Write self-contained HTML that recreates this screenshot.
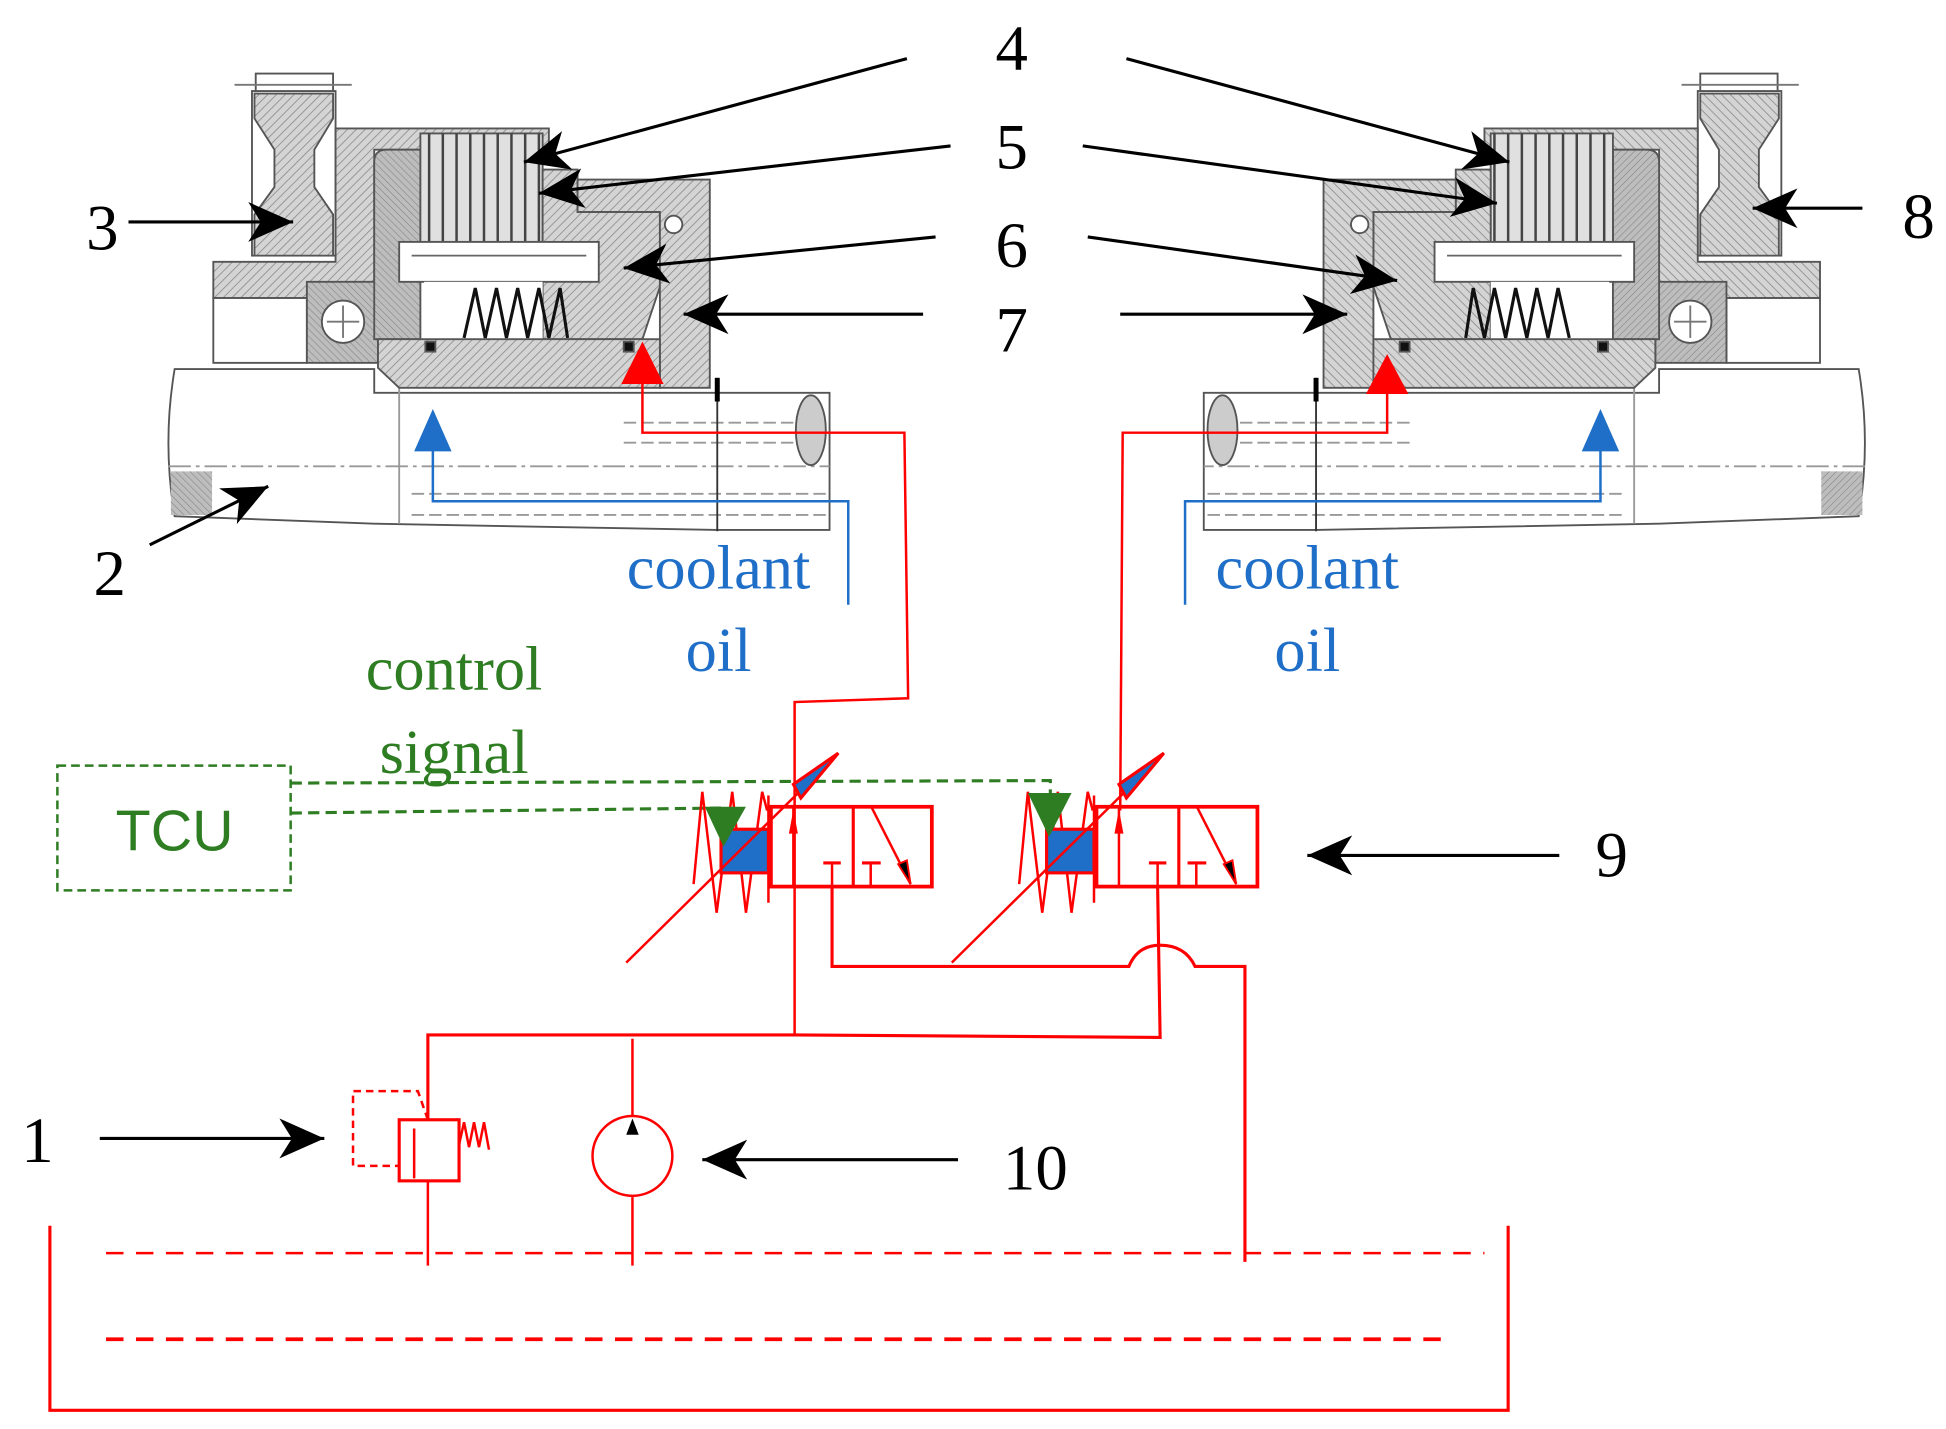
<!DOCTYPE html>
<html><head><meta charset="utf-8"><style>html,body{margin:0;padding:0;background:#fff}svg{display:block}</style></head>
<body>
<svg width="1946" height="1429" viewBox="0 0 1560 1146" preserveAspectRatio="none" xmlns="http://www.w3.org/2000/svg">
<defs>
<pattern id="h" width="5" height="5" patternUnits="userSpaceOnUse" patternTransform="rotate(45)">
<rect width="5" height="5" fill="#d4d4d4"/><line x1="0" y1="0" x2="0" y2="5" stroke="#8a8a8a" stroke-width="1.3"/></pattern>
<pattern id="h2" width="4" height="4" patternUnits="userSpaceOnUse" patternTransform="rotate(-45)">
<rect width="4" height="4" fill="#bdbdbd"/><line x1="0" y1="0" x2="0" y2="4" stroke="#888" stroke-width="1"/></pattern>
<marker id="ab" markerWidth="40" markerHeight="36" refX="36" refY="18" orient="auto" markerUnits="userSpaceOnUse">
<path d="M36,18 L0,2 L10,18 L0,34 Z" fill="#000"/></marker>
<g id="mech" stroke="#555" stroke-width="1.5">
 <path d="M140,296 L300,296 L300,315 L665,315 L665,425 L575,425 L300,420 L140,414 Q130,355 140,296 Z" fill="#fff"/>
 <path d="M137,378 L170,378 L170,413 L137,413 Z" fill="url(#h2)" stroke="none"/>
 <line x1="135" y1="374" x2="665" y2="374" stroke="#999" stroke-dasharray="18,4,3,4"/>
 <line x1="500" y1="339" x2="660" y2="339" stroke="#999" stroke-dasharray="10,4"/>
 <line x1="500" y1="355" x2="660" y2="355" stroke="#999" stroke-dasharray="10,4"/>
 <line x1="330" y1="396" x2="665" y2="396" stroke="#999" stroke-dasharray="10,4"/>
 <line x1="330" y1="413" x2="665" y2="413" stroke="#999" stroke-dasharray="10,4"/>
 <ellipse cx="650" cy="345" rx="12" ry="28" fill="#ccc"/>
 <line x1="575" y1="303" x2="575" y2="426" stroke="#333" stroke-width="1.5"/>
 <line x1="575" y1="303" x2="575" y2="322" stroke="#000" stroke-width="4"/>
 <line x1="320" y1="300" x2="320" y2="420" stroke="#999"/>
 <!-- gear 3 -->
 <rect x="202" y="73" width="67" height="132" fill="#fff"/>
 <path d="M204,75 L267,75 L267,95 L252,120 L252,150 L267,172 L267,205 L204,205 L204,172 L220,150 L220,120 L204,95 Z" fill="url(#h)"/>
 <rect x="205" y="59" width="62" height="14" fill="#fff"/>
 <line x1="188" y1="68" x2="282" y2="68" stroke="#777"/>
 <!-- housing -->
 <path d="M171,210 L269,210 L269,103 L440,103 L440,120 L300,120 L300,239 L171,239 Z" fill="url(#h)"/>
 <rect x="171" y="239" width="75" height="52" fill="#fff"/>
 <rect x="246" y="226" width="57" height="65" fill="url(#h2)"/>
 <circle cx="275" cy="258" r="17" fill="#fff"/>
 <line x1="262" y1="258" x2="288" y2="258" stroke="#777"/><line x1="275" y1="245" x2="275" y2="271" stroke="#777"/>
 <path d="M300,130 Q300,120 310,120 L337,120 L337,272 L300,272 Z" fill="url(#h2)"/>
 <rect x="337" y="107" width="98" height="87" fill="#e0e0e0"/>
 <g stroke="#444" stroke-width="2">
 <line x1="344" y1="107" x2="344" y2="194"/><line x1="355" y1="107" x2="355" y2="194"/><line x1="366" y1="107" x2="366" y2="194"/><line x1="377" y1="107" x2="377" y2="194"/><line x1="388" y1="107" x2="388" y2="194"/><line x1="399" y1="107" x2="399" y2="194"/><line x1="410" y1="107" x2="410" y2="194"/><line x1="421" y1="107" x2="421" y2="194"/><line x1="432" y1="107" x2="432" y2="194"/></g>
 <path d="M435,136 L463,136 L463,170 L529,170 L529,230 L515,272 L435,272 Z" fill="url(#h)"/>
 <rect x="320" y="194" width="160" height="32" fill="#fff"/>
 <line x1="330" y1="205" x2="470" y2="205" stroke="#666"/>
 <path d="M463,144 L569,144 L569,311 L529,311 L529,170 L463,170 Z" fill="url(#h)"/>
 <circle cx="540" cy="180" r="7" fill="#fff"/>
 <rect x="340" y="226" width="95" height="46" fill="#fff" stroke="none"/>
 <polyline points="372,271 381,231 389,271 398,231 406,271 415,231 423,271 432,231 440,271 449,231 455,271" fill="none" stroke="#111" stroke-width="2.5"/>
 <path d="M303,272 L529,272 L529,311 L320,311 L303,295 Z" fill="url(#h)"/>
 <rect x="341" y="274" width="8" height="8" fill="#111"/><rect x="500" y="274" width="8" height="8" fill="#111"/>
</g>
</defs>

<use href="#mech"/>
<use href="#mech" transform="translate(1630,0) scale(-1,1)"/>

<g stroke="#1f6fc8" stroke-width="2" fill="none">
<polyline points="680,485 680,402 347,402 347,350"/>
<polyline points="950,485 950,402 1283,402 1283,350"/>
</g>
<path d="M347,328 L332,362 L362,362 Z" fill="#1f6fc8"/>
<path d="M1283,328 L1268,362 L1298,362 Z" fill="#1f6fc8"/>

<g stroke="#f00" stroke-width="2" fill="none">
<polyline points="637,830 637,563 728,560 725,347 515,347 515,300"/>
<polyline points="898,650 900,347 1112,347 1112,300"/>
</g>
<path d="M515,274 L498,308 L532,308 Z" fill="#f00"/>
<path d="M1112,284 L1095,316 L1129,316 Z" fill="#f00"/>

<g stroke="#000" stroke-width="2.5" marker-end="url(#ab)" fill="none">
<line x1="727" y1="47" x2="420" y2="130"/>
<line x1="903" y1="47" x2="1210" y2="130"/>
<line x1="762" y1="117" x2="432" y2="155"/>
<line x1="868" y1="117" x2="1200" y2="163"/>
<line x1="750" y1="190" x2="500" y2="215"/>
<line x1="872" y1="190" x2="1120" y2="225"/>
<line x1="740" y1="252" x2="548" y2="252"/>
<line x1="898" y1="252" x2="1080" y2="252"/>
<line x1="103" y1="178" x2="235" y2="178"/>
<line x1="1493" y1="167" x2="1405" y2="167"/>
<line x1="120" y1="437" x2="215" y2="390"/>
<line x1="1250" y1="686" x2="1048" y2="686"/>
<line x1="80" y1="913" x2="260" y2="913"/>
<line x1="768" y1="930" x2="563" y2="930"/>
</g>

<g font-family="Liberation Serif, serif" font-size="52" fill="#000" text-anchor="middle">
<text x="811" y="56">4</text><text x="811" y="135">5</text><text x="811" y="214">6</text><text x="811" y="282">7</text>
<text x="82" y="200">3</text><text x="88" y="477">2</text><text x="1538" y="191">8</text>
<text x="1292" y="703">9</text><text x="30" y="932">1</text><text x="830" y="954">10</text>
</g>
<g font-family="Liberation Serif, serif" font-size="50" text-anchor="middle">
<text x="576" y="472" fill="#1f6fc8">coolant</text><text x="576" y="538" fill="#1f6fc8">oil</text>
<text x="1048" y="472" fill="#1f6fc8">coolant</text><text x="1048" y="538" fill="#1f6fc8">oil</text>
<text x="364" y="553" fill="#2e7d22">control</text><text x="364" y="620" fill="#2e7d22">signal</text>
</g>

<rect x="46" y="614" width="187" height="100" fill="none" stroke="#2e7d22" stroke-width="2" stroke-dasharray="7,4"/>
<text x="140" y="682" font-family="Liberation Sans, sans-serif" font-size="46" fill="#2e7d22" text-anchor="middle">TCU</text>
<g stroke="#2e7d22" stroke-width="2.5" fill="none" stroke-dasharray="9,5">
<polyline points="233,628 842,626 842,640"/>
<polyline points="233,652 580,648 580,655"/>
</g>

<g id="valve" stroke="#f00" fill="none">
<polyline points="556,709 563,635 574.5,732 587,635 598,732 611,635 615,650" stroke-width="2"/>
<line x1="616" y1="638" x2="616" y2="724" stroke-width="2"/>
<rect x="578" y="665" width="38" height="35" fill="#1f6fc8" stroke-width="2.5"/>
<rect x="618" y="647" width="129" height="64" stroke-width="3"/>
<line x1="684" y1="647" x2="684" y2="711" stroke-width="2.5"/>
<line x1="636" y1="647" x2="636" y2="711" stroke-width="2"/>
<path d="M636,652 L633,668 L639,668 Z" fill="#f00" stroke-width="1"/>
<line x1="660" y1="692" x2="674" y2="692" stroke-width="2.5"/><line x1="667" y1="692" x2="667" y2="711" stroke-width="2"/>
<line x1="691" y1="692" x2="706" y2="692" stroke-width="2.5"/><line x1="698" y1="692" x2="698" y2="711" stroke-width="2"/>
<line x1="699" y1="648" x2="730" y2="709" stroke-width="2"/>
<path d="M730,709 L720,693 L727,690 Z" fill="#000" stroke="#f00" stroke-width="1.5"/>
<line x1="502" y1="772" x2="660" y2="616" stroke-width="2"/>
<path d="M672,604 L636,629 L642,640 Z" fill="#1f6fc8" stroke-width="2.5"/>
</g>
<use href="#valve" transform="translate(261,0)"/>
<path d="M565,647 L598,647 L580,679 Z" fill="#2e7d22"/>
<path d="M824,636 L859,636 L841,671 Z" fill="#2e7d22"/>

<g stroke="#f00" stroke-width="2" fill="none">
<path d="M667,711 L667,775 L905,775 Q912,758 930,758 Q950,758 958,775 L998,775 L998,1012" stroke-width="2.5"/>
<polyline points="928,711 930,832 637,830 343,830 343,898" stroke-width="2.5"/>
<line x1="507" y1="833" x2="507" y2="895"/>
<line x1="507" y1="960" x2="507" y2="1015"/>
<circle cx="507" cy="927" r="32"/>
<rect x="320" y="898" width="48" height="49" stroke-width="2.5"/>
<polyline points="343,898 335,875 283,875 283,935 320,935" stroke-dasharray="6,4"/>
<line x1="332" y1="905" x2="332" y2="945"/>
<polyline points="368,918 372,900 376,920 380,900 384,920 388,900 392,922"/>
<line x1="343" y1="947" x2="343" y2="1015"/>
<polyline points="40,983 40,1131 1209,1131 1209,983" stroke-width="2.5"/>
<line x1="85" y1="1005" x2="1190" y2="1005" stroke-dasharray="14,10"/>
<line x1="85" y1="1074" x2="1160" y2="1074" stroke-dasharray="14,10" stroke-width="3"/>
</g>
<path d="M507,897 L502,910 L512,910 Z" fill="#000"/>
</svg>
</body></html>
